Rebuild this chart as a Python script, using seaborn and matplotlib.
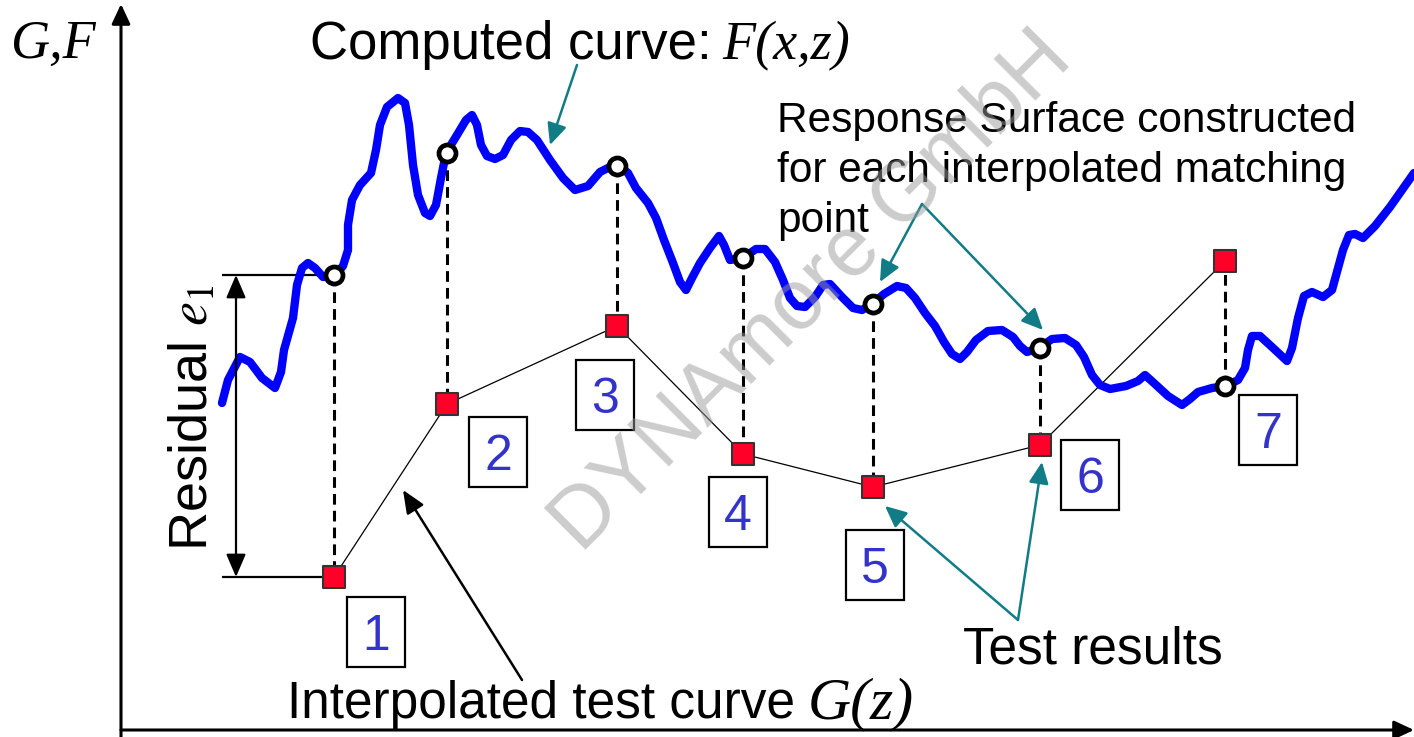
import pandas as pd
import matplotlib.pyplot as plt
import seaborn as sns
from matplotlib.patches import Rectangle

# Computed curve F(x,z) (pixel units, y grows downward)
curve_x = [222, 228, 240, 250, 262, 275, 281, 284, 293, 297, 302, 308, 315, 323, 334,
           343, 348, 348, 352, 360, 371, 376, 380, 387, 398, 405, 409, 413, 418, 425,
           430, 436, 441, 446, 457, 466, 472, 477, 481, 487, 495, 503, 511, 520, 528,
           537, 550, 563, 575, 588, 600, 610, 619, 628, 636, 648, 656, 664, 673, 680,
           686, 692, 700, 710, 719, 724, 730, 743, 756, 765, 775, 783, 790, 797, 805,
           815, 823, 830, 842, 853, 862, 872, 884, 897, 906, 915, 925, 935, 944, 952,
           960, 967, 976, 988, 1002, 1013, 1020, 1027, 1039, 1052, 1065, 1076, 1084, 1092, 1100,
           1110, 1126, 1138, 1145, 1155, 1168, 1182, 1190, 1198, 1212, 1226, 1238, 1245, 1248, 1252,
           1260, 1272, 1287, 1292, 1298, 1304, 1312, 1323, 1332, 1338, 1343, 1349, 1355, 1363, 1375,
           1390, 1414]
curve_y = [403, 380, 357, 362, 378, 388, 372, 350, 318, 285, 268, 263, 268, 277, 276,
           266, 250, 225, 200, 185, 173, 150, 125, 107, 98, 103, 125, 165, 195, 213,
           216, 205, 178, 153, 135, 120, 115, 125, 145, 156, 159, 155, 140, 131, 132,
           140, 160, 178, 190, 186, 172, 167, 166, 173, 188, 203, 218, 240, 263, 282,
           290, 278, 263, 248, 236, 245, 260, 258, 249, 249, 262, 280, 298, 306, 307,
           297, 285, 284, 297, 308, 310, 304, 294, 286, 288, 298, 313, 326, 342, 354,
           359, 352, 340, 331, 330, 337, 346, 352, 348, 339, 338, 345, 357, 375, 385,
           389, 386, 381, 375, 384, 396, 405, 399, 392, 388, 386, 380, 368, 350, 336,
           336, 347, 361, 348, 318, 296, 292, 297, 290, 268, 250, 235, 234, 238, 226,
           207, 173]

# interpolated matching points 1..7
match_x = [334, 447, 617, 743, 873, 1040, 1225]
f_at_match = [275, 153, 166, 258, 304, 348, 386]   # F on the computed curve
g_test = [577, 404, 326, 454, 487, 445, 261]       # test results G
point_ids = ['1', '2', '3', '4', '5', '6', '7']
id_box_x = [376, 498, 605, 738, 875, 1090, 1268]
id_box_y = [632, 452, 395, 512, 565, 475, 430]

response_lines = ['Response Surface constructed',
                  'for each interpolated matching',
                  'point']

TEAL = '#127C86'

sns.set_theme(style='white')
plt.rcParams['font.family'] = ['Liberation Sans', 'DejaVu Sans']
plt.rcParams['mathtext.fontset'] = 'stix'
plt.rcParams['text.color'] = 'black'

fig = plt.figure(figsize=(14.14, 7.37), dpi=100)
ax = fig.add_axes([0, 0, 1, 1])
ax.set_xlim(0, 1414)
ax.set_ylim(737, 0)
ax.axis('off')

curve_df = pd.DataFrame({'z': curve_x, 'F': curve_y})
pts = pd.DataFrame({'z': match_x, 'F': f_at_match, 'G': g_test})

# blue computed curve
sns.lineplot(data=curve_df, x='z', y='F', sort=False, estimator=None,
             color='#0000FF', linewidth=6.0, ax=ax, zorder=3)
ax.lines[-1].set_solid_joinstyle('round')

# thin interpolated test curve
sns.lineplot(data=pts, x='z', y='G', sort=False, estimator=None,
             color='black', linewidth=0.9, ax=ax, zorder=2)

# dashed links between F and G
ax.vlines(pts['z'], pts['F'], pts['G'], colors='black', linewidth=2.2,
          linestyles=(0, (3.5, 2.0)), zorder=2)

sns.scatterplot(data=pts, x='z', y='G', marker='s', s=230, color='#FF0028',
                edgecolor='#333333', linewidth=1.5, ax=ax, zorder=5)
sns.scatterplot(data=pts, x='z', y='F', marker='o', s=150, color='white',
                edgecolor='black', linewidth=3.4, ax=ax, zorder=5)

# numbered boxes
for lab, bx, by in zip(point_ids, id_box_x, id_box_y):
    ax.add_patch(Rectangle((bx - 29, by - 35), 58, 70, facecolor='white',
                           edgecolor='black', linewidth=1.6, zorder=4))
    ax.text(bx, by + 18, lab, fontsize=36, color='#3333CC', ha='center',
            va='baseline', zorder=6)

# axes with arrow heads
axis_arrow = dict(arrowstyle='-|>,head_length=0.6,head_width=0.28', mutation_scale=20,
                  lw=2.2, color='black', shrinkA=0, shrinkB=0)
ax.annotate('', xy=(121, 4), xytext=(121, 737), arrowprops=axis_arrow)
ax.annotate('', xy=(1414, 730), xytext=(121, 730), arrowprops=axis_arrow)

# residual e1
ax.hlines([f_at_match[0], g_test[0]], 222, [match_x[0] - 4, match_x[0] - 12],
          colors='black', linewidth=1.6, zorder=2)
ax.annotate('', xy=(236, f_at_match[0]), xytext=(236, g_test[0]),
            arrowprops=dict(arrowstyle='<|-|>,head_length=0.7,head_width=0.3',
                            mutation_scale=20, lw=1.6, color='black',
                            shrinkA=0, shrinkB=0))
ax.text(194, 418, 'Residual $e_\\mathit{1}$', rotation=90, fontsize=39,
        ha='center', va='center')

# teal pointers
teal_arrow = dict(arrowstyle='-|>,head_length=0.65,head_width=0.3', mutation_scale=20,
                  lw=1.8, color=TEAL, shrinkA=0, shrinkB=0)
for start, tip in [((577, 65), (550, 145)),
                   ((922, 204), (880, 282)),
                   ((922, 204), (1043, 330)),
                   ((1018, 620), (885, 506)),
                   ((1018, 620), (1042, 462))]:
    ax.annotate('', xy=tip, xytext=start, arrowprops=teal_arrow)

ax.annotate('', xy=(403, 490), xytext=(522, 680),
            arrowprops=dict(arrowstyle='-|>,head_length=0.7,head_width=0.3',
                            mutation_scale=20, lw=1.8, color='black',
                            shrinkA=0, shrinkB=0))

# labels
serif_it = dict(family=['Liberation Serif', 'DejaVu Serif'], style='italic')
ax.text(10, 58, 'G,F', fontsize=39, va='baseline', **serif_it)
ax.text(310, 59, 'Computed curve:', fontsize=38, va='baseline')
ax.text(722, 59, 'F(x,z)', fontsize=39, va='baseline', **serif_it)
for i, line in enumerate(response_lines):
    ax.text(777, 132 + 50 * i, line, fontsize=30.5, va='baseline')
ax.text(963, 663, 'Test results', fontsize=37, va='baseline')
ax.text(287, 718, 'Interpolated test curve', fontsize=37, va='baseline')
ax.text(808, 718, 'G(z)', fontsize=43, va='baseline', **serif_it)

# watermark
ax.text(812, 292, 'DYNAmore GmbH', rotation=45, fontsize=61, color='#9a9a9a',
        alpha=0.5, ha='center', va='center', rotation_mode='anchor', zorder=10)

fig.savefig('out.png', dpi=100)
